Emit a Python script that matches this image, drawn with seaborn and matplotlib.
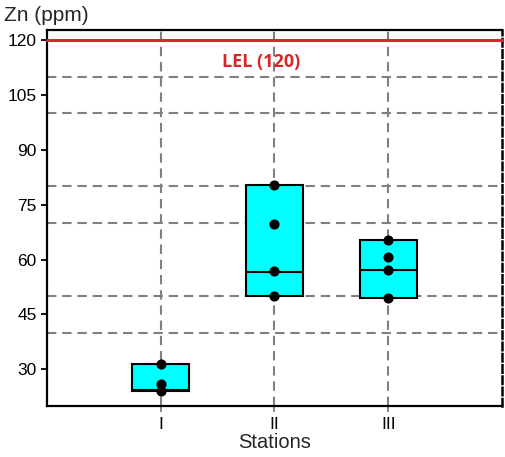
import numpy as np
import pandas as pd
import matplotlib
matplotlib.use("Agg")
import matplotlib.pyplot as plt
import seaborn as sns

# values
stations = ["I", "II", "III"]
zn_station_1 = [31.4, 26.1, 24.1]
zn_station_2 = [80.5, 69.7, 56.8, 50.0]
zn_station_3 = [65.2, 60.8, 57.1, 49.6]
box_line = [24.4, 56.5, 57.2]  # line drawn inside each box
lel_value = 120
y_ticks = [30, 45, 60, 75, 90, 105, 120]
grid_levels = [30, 40, 50, 60, 70, 80, 90, 100, 110]


def build_table():
    rows = []
    for name, vals in zip(stations, [zn_station_1, zn_station_2, zn_station_3]):
        for v in vals:
            rows.append({"Station": name, "Zn": v})
    return pd.DataFrame(rows)


def make_chart(df):
    sns.set_style("white")
    plt.rcParams["font.family"] = ["Liberation Sans", "DejaVu Sans"]
    fig = plt.figure(figsize=(5.05, 4.57), dpi=100)
    ax = fig.add_axes([0.093, 0.112, 0.901, 0.822])

    # boxes span min..max with a line at box_line
    stats = []
    for i, name in enumerate(stations):
        vals = df.loc[df["Station"] == name, "Zn"]
        stats.append({"med": box_line[i], "q1": vals.min(), "q3": vals.max(),
                      "whislo": vals.min(), "whishi": vals.max(), "fliers": []})
    ax.bxp(stats, positions=range(len(stations)), widths=0.5, patch_artist=True,
           showcaps=False, showfliers=False,
           boxprops=dict(facecolor="#00ffff", edgecolor="black", linewidth=1.5),
           medianprops=dict(color="black", linewidth=1.5),
           whiskerprops=dict(linewidth=0), zorder=3)

    sns.stripplot(data=df, x="Station", y="Zn", order=stations, jitter=False,
                  color="black", size=7.3, ax=ax, zorder=4)

    ax.axhline(lel_value, color="#d9262b", linewidth=2.2, zorder=5, clip_on=False)
    ax.text(0.88, 114.0, "LEL (120)", color="#d9262b", fontsize=13, fontweight="bold",
            family=["Open Sans", "DejaVu Sans"], ha="center", va="center")

    ax.set_xlim(-1, 3)
    ax.set_ylim(20, 122.7)
    ax.set_xticks(range(len(stations)))
    ax.set_xticklabels(stations)
    ax.set_yticks(y_ticks)
    ax.set_yticks(grid_levels, minor=True)

    grid_style = dict(color="#808080", linestyle=(0, (4.5, 2.8)), linewidth=1.5)
    ax.grid(False)
    ax.yaxis.grid(True, which="minor", **grid_style)
    ax.xaxis.grid(True, which="major", **grid_style)
    ax.set_axisbelow(True)

    ax.tick_params(axis="both", which="major", direction="out", length=4, width=1.3,
                   labelsize=12.5, colors="black", left=True, bottom=True)
    ax.tick_params(axis="y", which="minor", length=0)
    ax.tick_params(axis="x", which="major", color="#808080", pad=4)

    for side in ["left", "bottom", "top"]:
        ax.spines[side].set_color("black")
        ax.spines[side].set_linewidth(1.6)
    ax.spines["right"].set_color("black")
    ax.spines["right"].set_linewidth(1.8)
    ax.spines["right"].set_linestyle((0, (3, 1.5)))

    ax.set_xlabel("Stations", fontsize=14.5, labelpad=1)
    ax.set_ylabel("")
    fig.text(0.008, 0.966, "Zn (ppm)", fontsize=15, ha="left", va="center")

    fig.savefig("out.png", dpi=100)
    plt.close(fig)


def main():
    df = build_table()
    make_chart(df)


if __name__ == "__main__":
    main()
